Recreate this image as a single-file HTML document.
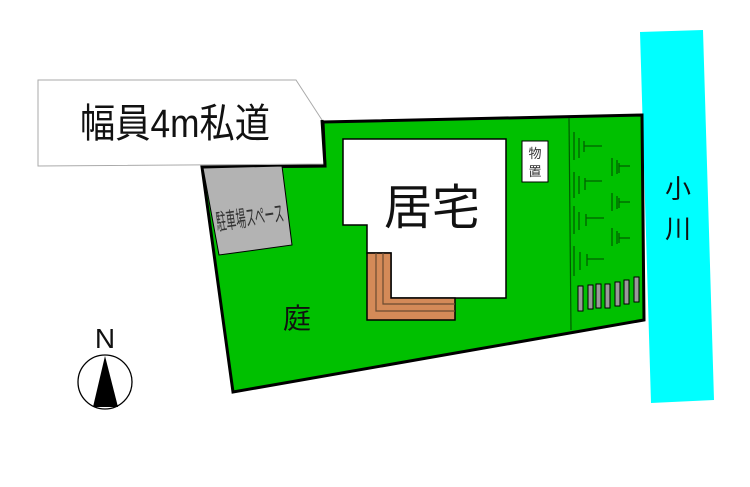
<!DOCTYPE html><html><head><style>body{margin:0;background:#fff}svg{display:block}text{font-family:"Liberation Sans","Noto Sans CJK JP",sans-serif}</style></head><body>
<svg width="750" height="487" viewBox="0 0 750 487" xmlns="http://www.w3.org/2000/svg">
<polygon points="640,32 703,30 714,400 651,403" fill="#00ffff"/>
<polygon points="202,167 325,166 323,122 642,115 644,320 233,392" fill="#00c000" stroke="#000" stroke-width="3"/>
<polygon points="38,80 296,80 322,120 325,164 38,166" fill="#fff" stroke="#aaa" stroke-width="1"/>
<polyline points="322,120 325,166 202,167" fill="none" stroke="#000" stroke-width="3"/>
<text x="80" y="137" font-size="40" fill="#111" textLength="190" lengthAdjust="spacingAndGlyphs">幅員4m私道</text>
<polygon points="203,168 282,166 292,245 219,255" fill="#b3b3b3" stroke="#000" stroke-width="1"/>
<g transform="translate(250,218) rotate(-8) scale(1,1.5)"><text x="0" y="5" font-size="15" text-anchor="middle" fill="#333" textLength="68" lengthAdjust="spacingAndGlyphs">駐車場スペース</text></g>
<polygon points="343,139 506,139 506,298 391,298 391,253 367,253 367,225 343,225" fill="#fff" stroke="#000" stroke-width="1.5"/>
<polygon points="367,253 391,253 391,298 455,298 455,320 367,320" fill="#d48a58" stroke="#000" stroke-width="1.5"/>
<polyline points="376,253 376,311 455,311" fill="none" stroke="#6b4a30" stroke-width="1.2"/>
<polyline points="383,253 383,304 455,304" fill="none" stroke="#6b4a30" stroke-width="1.2"/>
<text x="432" y="224" font-size="48" text-anchor="middle" fill="#111">居宅</text>
<text x="297" y="328" font-size="28" text-anchor="middle" fill="#111">庭</text>
<rect x="522" y="141" width="26" height="41" fill="#fff" stroke="#000" stroke-width="1"/>
<text x="535" y="158" font-size="13" text-anchor="middle" fill="#333">物</text>
<text x="535" y="176" font-size="13" text-anchor="middle" fill="#333">置</text>
<line x1="569" y1="118" x2="571" y2="330" stroke="#005a00" stroke-width="1.2"/>
<g stroke="#006000" stroke-width="1.3">
<line x1="574" y1="132" x2="574" y2="160"/><line x1="579" y1="138" x2="579" y2="158"/><line x1="584" y1="141" x2="584" y2="152"/><line x1="584" y1="146" x2="602" y2="146"/>
<line x1="612" y1="158" x2="612" y2="176"/><line x1="617" y1="160" x2="617" y2="174"/><line x1="619" y1="163" x2="619" y2="173"/><line x1="619" y1="166" x2="630" y2="166"/>
<line x1="574" y1="172" x2="574" y2="198"/><line x1="579" y1="176" x2="579" y2="194"/><line x1="585" y1="178" x2="585" y2="190"/><line x1="585" y1="181" x2="602" y2="181"/>
<line x1="612" y1="193" x2="612" y2="211"/><line x1="617" y1="196" x2="617" y2="209"/><line x1="619" y1="198" x2="619" y2="208"/><line x1="619" y1="202" x2="630" y2="202"/>
<line x1="574" y1="206" x2="574" y2="234"/><line x1="579" y1="212" x2="579" y2="230"/><line x1="586" y1="214" x2="586" y2="226"/><line x1="586" y1="218" x2="604" y2="218"/>
<line x1="612" y1="228" x2="612" y2="246"/><line x1="617" y1="231" x2="617" y2="244"/><line x1="619" y1="233" x2="619" y2="243"/><line x1="619" y1="238" x2="630" y2="238"/>
<line x1="574" y1="246" x2="574" y2="276"/><line x1="580" y1="252" x2="580" y2="270"/><line x1="587" y1="254" x2="587" y2="266"/><line x1="587" y1="259" x2="604" y2="259"/>
</g>
<g fill="#999" stroke="#000" stroke-width="1">
<rect x="578" y="286" width="5" height="25"/><rect x="588" y="285" width="5" height="24"/><rect x="596" y="284" width="5" height="24"/><rect x="605" y="284" width="5" height="24"/><rect x="615" y="282" width="5" height="24"/><rect x="624" y="280" width="5" height="24"/><rect x="634" y="277" width="5" height="25"/>
</g>
<text x="678" y="198" font-size="26" text-anchor="middle" fill="#111">小</text>
<text x="678" y="238" font-size="26" text-anchor="middle" fill="#111">川</text>
<text x="105" y="348" font-size="28" text-anchor="middle" fill="#111">N</text>
<circle cx="105" cy="382" r="27" fill="#fff" stroke="#000" stroke-width="1.3"/>
<polygon points="105,356 93,407 118,407" fill="#000"/>
</svg>
</body></html>
